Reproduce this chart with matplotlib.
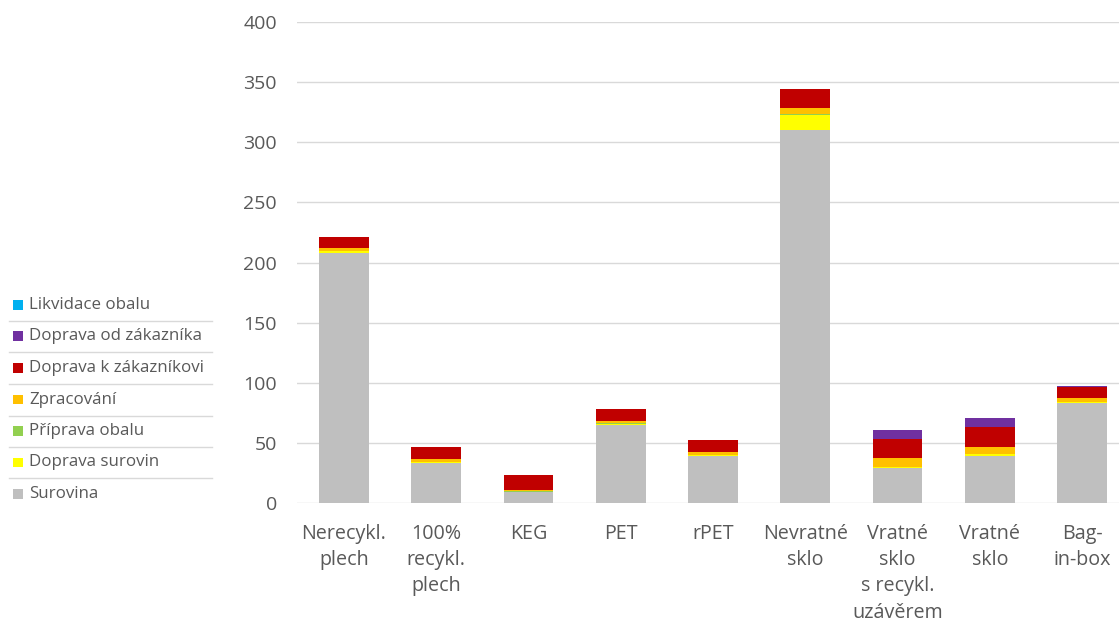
import matplotlib
matplotlib.use("Agg")
import matplotlib.pyplot as plt
import numpy as np
from matplotlib.patches import Rectangle
from matplotlib.lines import Line2D

categories = ["Nerecykl.\nplech", "100%\nrecykl.\nplech", "KEG", "PET", "rPET",
              "Nevratné\nsklo", "Vratné\nsklo\ns recykl.\nuzávěrem", "Vratné\nsklo", "Bag-\nin-box"]

series_names = ["Surovina", "Doprava surovin", "Příprava obalu", "Zpracování",
                "Doprava k zákazníkovi", "Doprava od zákazníka", "Likvidace obalu"]

surovina            = [208, 33, 9, 65, 39, 310, 29, 39.5, 83.5]
doprava_surovin     = [1.5, 1, 0.5, 1, 1, 13, 1, 1, 0.5]
priprava_obalu      = [0.3, 0.3, 0.2, 0.3, 0.3, 0.3, 0.3, 0.3, 0.3]
zpracovani          = [2, 2.5, 1, 2, 2.5, 5.5, 7, 6, 3]
doprava_k_zak       = [9.5, 9.5, 12.5, 10, 10, 15.7, 16, 16, 9.5]
doprava_od_zak      = [0, 0, 0.2, 0, 0, 0, 7, 7.5, 0.3]
likvidace           = [0, 0, 0, 0, 0, 0, 0, 0, 0]

colors = ["#BFBFBF", "#FFFF00", "#92D050", "#FFC000", "#C00000", "#7030A0", "#00B0F0"]

yticks = [0, 50, 100, 150, 200, 250, 300, 350, 400]

plt.rcParams['font.family'] = ['Open Sans', 'DejaVu Sans']
text_color = "#595959"

fig = plt.figure(figsize=(11.19, 6.24), dpi=100)
ax = fig.add_axes([297/1119, 1 - 503/624, 1 - 297/1119, (503 - 22)/624])

x = np.arange(len(categories))
data = [surovina, doprava_surovin, priprava_obalu, zpracovani, doprava_k_zak, doprava_od_zak, likvidace]
bottom = np.zeros(len(categories))
for vals, c, name in zip(data, colors, series_names):
    v = np.array(vals, dtype=float)
    ax.bar(x, v, bottom=bottom, width=0.54, color=c, label=name, zorder=3)
    bottom += v

ax.set_ylim(0, 400)
ax.set_xlim(-0.51, 8.4)
ax.set_yticks(yticks)
ax.set_yticklabels([str(t) for t in yticks], fontsize=14, color=text_color)
ax.set_xticks(x)
ax.set_xticklabels(categories, fontsize=14.2, color=text_color, linespacing=1.42, va="top")
ax.tick_params(axis="both", length=0)
ax.tick_params(axis="y", pad=14.5)
ax.tick_params(axis="x", pad=15)
ax.grid(axis="y", color="#D9D9D9", linewidth=1.0, zorder=0)
for s in ax.spines.values():
    s.set_visible(False)

# legend drawn in reversed order
W, H = 1119, 624
row_y = [305, 336.5, 368, 399.5, 431, 462.5, 494]
sep_y = [320.7, 352, 384, 415.7, 446.7, 477.7]
for i, (name, c) in enumerate(zip(series_names[::-1], colors[::-1])):
    yc = row_y[i]
    fig.patches.append(Rectangle((13/W, 1 - (yc + 4.5)/H), 9.5/W, 9.5/H,
                                 transform=fig.transFigure, facecolor=c, edgecolor="none"))
    fig.text(29/W, 1 - yc/H, name, fontsize=12.2, color=text_color, va="center", ha="left")
for yy in sep_y:
    fig.add_artist(Line2D([9/W, 212/W], [1 - yy/H, 1 - yy/H], transform=fig.transFigure,
                          color="#D9D9D9", linewidth=1.0))

fig.savefig("out.png", dpi=100, facecolor="white")
